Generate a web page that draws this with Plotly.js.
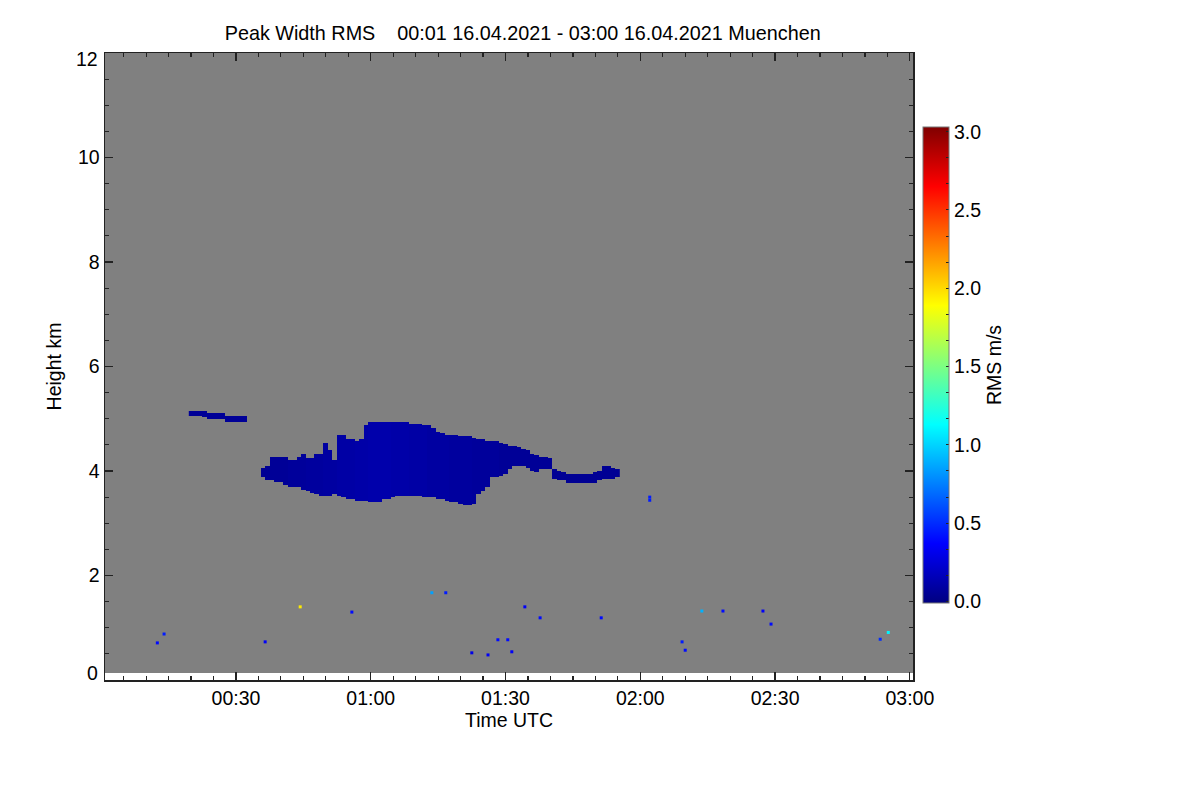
<!DOCTYPE html>
<html>
<head>
<meta charset="utf-8">
<script src="https://cdn.plot.ly/plotly-3.0.1.min.js"></script>
<style>
  body { margin: 0; background: #fff; }
  #chart { width: 1200px; height: 800px; }
</style>
</head>
<body>
<div id="chart"></div>
<script>
// Peak Width RMS, Muenchen 16.04.2021 00:01-03:00 UTC.
// Zeiten in Minuten nach 00:00 UTC, Hoehen in km, Werte in m/s.

const DAY = '2021-04-16';

// Hauptwolke, eine Spalte pro Minute ab CLOUD_START
const CLOUD_START = 36;
const CLOUD_TOP = [
  4.05, 4.10, 4.27, 4.27, 4.27, 4.26, 4.21, 4.21, 4.26, 4.32,
  4.24, 4.24, 4.34, 4.34, 4.53, 4.40, 4.21, 4.68, 4.68, 4.60,
  4.59, 4.58, 4.59, 4.88, 4.93, 4.94, 4.94, 4.94, 4.94, 4.94,
  4.93, 4.93, 4.92, 4.91, 4.90, 4.90, 4.88, 4.86, 4.80, 4.76,
  4.72, 4.69, 4.69, 4.68, 4.67, 4.67, 4.66, 4.62, 4.59, 4.59,
  4.58, 4.56, 4.56, 4.55, 4.50, 4.49, 4.48, 4.46, 4.41, 4.38,
  4.32, 4.31, 4.28, 4.27, 4.24, 4.02, 4.00, 3.98, 3.95, 3.94,
  3.94, 3.94, 3.94, 3.95, 3.96, 4.00, 4.08, 4.08, 4.06, 4.02
];
const CLOUD_BASE = [
  3.88, 3.84, 3.82, 3.81, 3.79, 3.74, 3.72, 3.71, 3.70, 3.64,
  3.61, 3.58, 3.56, 3.54, 3.54, 3.54, 3.56, 3.52, 3.51, 3.48,
  3.46, 3.45, 3.45, 3.43, 3.42, 3.41, 3.42, 3.47, 3.48, 3.49,
  3.53, 3.54, 3.54, 3.54, 3.53, 3.52, 3.51, 3.51, 3.50, 3.48,
  3.46, 3.45, 3.42, 3.40, 3.37, 3.36, 3.36, 3.37, 3.55, 3.62,
  3.72, 3.88, 3.90, 3.92, 3.95, 4.05, 4.09, 4.10, 4.09, 4.08,
  4.00, 3.99, 4.03, 4.05, 4.04, 3.86, 3.84, 3.82, 3.78, 3.77,
  3.76, 3.76, 3.77, 3.77, 3.78, 3.82, 3.85, 3.86, 3.87, 3.88
];
const CLOUD_RMS = [
  0.05, 0.05, 0.06, 0.06, 0.06, 0.06, 0.07, 0.07, 0.07, 0.07,
  0.08, 0.08, 0.08, 0.08, 0.09, 0.09, 0.09, 0.10, 0.10, 0.10,
  0.10, 0.11, 0.11, 0.11, 0.12, 0.12, 0.12, 0.12, 0.12, 0.11,
  0.11, 0.11, 0.11, 0.10, 0.10, 0.10, 0.10, 0.09, 0.09, 0.09,
  0.09, 0.09, 0.08, 0.08, 0.08, 0.08, 0.08, 0.07, 0.07, 0.07,
  0.07, 0.07, 0.07, 0.06, 0.06, 0.06, 0.06, 0.06, 0.06, 0.06,
  0.06, 0.06, 0.06, 0.06, 0.06, 0.05, 0.05, 0.05, 0.05, 0.05,
  0.05, 0.05, 0.05, 0.05, 0.05, 0.05, 0.05, 0.05, 0.05, 0.05
];

// duenne Schicht bei 5 km
const BAND_START = 20;
const BAND_TOP  = [5.15, 5.15, 5.15, 5.15, 5.10, 5.10, 5.10, 5.10, 5.05, 5.05, 5.05, 5.05, 5.05];
const BAND_BASE = [5.05, 5.05, 5.05, 5.04, 5.00, 5.00, 5.00, 5.00, 4.95, 4.95, 4.95, 4.95, 4.95];
const BAND_RMS  = [0.06, 0.06, 0.06, 0.06, 0.06, 0.06, 0.06, 0.06, 0.06, 0.06, 0.06, 0.06, 0.06];

// Einzelpixel
const SPOT_MIN = [12.5, 14.0, 36.5, 44.3, 55.8, 73.6, 76.7, 82.5, 86.1, 88.3, 90.5, 91.4,
                  94.3, 97.7, 111.3, 122.1, 122.1, 129.3, 130.0, 133.7, 138.4, 147.3, 149.1, 173.4, 175.2];
const SPOT_KM  = [0.71, 0.88, 0.73, 1.40, 1.30, 1.67, 1.67, 0.52, 0.48, 0.77, 0.77, 0.54,
                  1.40, 1.19, 1.19, 3.50, 3.44, 0.73, 0.57, 1.32, 1.32, 1.32, 1.07, 0.78, 0.91];
const SPOT_RMS = [0.40, 0.45, 0.35, 1.95, 0.40, 0.85, 0.45, 0.30, 0.35, 0.40, 0.40, 0.35,
                  0.35, 0.40, 0.40, 0.45, 0.45, 0.45, 0.40, 0.90, 0.40, 0.35, 0.40, 0.50, 1.10];

const HEIGHT_TICKS = [0, 2, 4, 6, 8, 10, 12];
const RMS_TICKS = [0, 0.5, 1, 1.5, 2, 2.5, 3];

const GATE_KM = 0.03;
const DATA_KM = [0.13, 12.0];          // Messbereich (grau = kein Signal)
const TIME_RANGE = [0.85, 180.7];
const RMS_RANGE = [-0.01, 3.03];

const JET = [
  [0, '#000080'], [0.125, '#0000ff'], [0.375, '#00ffff'],
  [0.625, '#ffff00'], [0.875, '#ff0000'], [1, '#800000']
];
const FONT = 'Liberation Sans, Arial, sans-serif';
const FS = 19.5;

function pad(n) { return String(n).padStart(2, '0'); }
function when(min) {
  const s = Math.round(min * 60);
  return `${DAY} ${pad(Math.floor(s / 3600))}:${pad(Math.floor(s / 60) % 60)}:${pad(s % 60)}`;
}

// Raster aus den Spalten aufbauen
const firstCol = BAND_START;
const lastCol = CLOUD_START + CLOUD_TOP.length - 1;
const cols = [];
for (let m = firstCol; m <= lastCol; m++) cols.push(m);
const rows = [];
for (let h = 3.30; h <= 5.25; h += GATE_KM) rows.push(+h.toFixed(3));

function cell(m, h) {
  const i = m - CLOUD_START;
  if (i >= 0 && i < CLOUD_TOP.length && h >= CLOUD_BASE[i] && h <= CLOUD_TOP[i]) return CLOUD_RMS[i];
  const j = m - BAND_START;
  if (j >= 0 && j < BAND_TOP.length && h >= BAND_BASE[j] && h <= BAND_TOP[j]) return BAND_RMS[j];
  return null;
}
const z = rows.map(h => cols.map(m => cell(m, h)));

// kleine Striche am Farbbalken (drei pro halbe Einheit)
const barTicks = [];
for (let k = 0; k <= 18; k++) barTicks.push(+(k / 6).toFixed(4));
const barText = barTicks.map(v => (RMS_TICKS.includes(v) ? v.toFixed(1) : ''));

const background = {
  type: 'heatmap',
  x: [when(TIME_RANGE[0]), when(TIME_RANGE[1])],
  y: DATA_KM,
  z: [[1]],
  colorscale: [[0, '#808080'], [1, '#808080']],
  showscale: false,
  hoverinfo: 'skip',
};

const cloud = {
  type: 'heatmap',
  x: cols.map(when),
  y: rows,
  z: z,
  zmin: RMS_RANGE[0],
  zmax: RMS_RANGE[1],
  colorscale: JET,
  hoverongaps: false,
  colorbar: {
    x: 1.0124, xanchor: 'left', xpad: 0,
    y: 0.1228, yanchor: 'bottom', ypad: 0,
    len: 476, lenmode: 'pixels',
    thickness: 26, thicknessmode: 'pixels',
    outlinewidth: 1, outlinecolor: '#777',
    tickmode: 'array',
    tickvals: barTicks,
    ticktext: barText,
    ticks: 'inside', ticklen: 3, tickcolor: '#222',
    tickfont: { family: FONT, size: FS, color: '#000' },
    title: { text: 'RMS m/s', side: 'right', font: { family: FONT, size: FS, color: '#000' } },
  },
};

const spots = {
  type: 'scatter',
  mode: 'markers',
  x: SPOT_MIN.map(when),
  y: SPOT_KM,
  marker: {
    symbol: 'square', size: 3,
    color: SPOT_RMS, colorscale: JET, cmin: RMS_RANGE[0], cmax: RMS_RANGE[1],
    line: { width: 0 },
  },
  hoverinfo: 'skip',
};

const axisCommon = {
  showline: true, linecolor: '#222', linewidth: 1.5,
  mirror: 'ticks', ticks: 'inside', ticklen: 8, tickcolor: '#222', tickwidth: 1.2,
  showgrid: false, zeroline: false,
  tickfont: { family: FONT, size: FS, color: '#000' },
};

// die aeusseren Hoehenbeschriftungen stehen etwas nach innen versetzt
const endLabels = [
  { v: HEIGHT_TICKS[0], shift: 7 },
  { v: HEIGHT_TICKS[HEIGHT_TICKS.length - 1], shift: -6 },
].map(e => ({
  xref: 'paper', x: 0, xanchor: 'right', xshift: -5,
  yref: 'y', y: e.v, yanchor: 'middle', yshift: e.shift,
  text: String(e.v), showarrow: false,
  font: { family: FONT, size: FS, color: '#000' },
}));

const layout = {
  width: 1200, height: 800,
  margin: { l: 105, r: 287, t: 53, b: 120 },
  paper_bgcolor: '#fff', plot_bgcolor: '#fff',
  showlegend: false,
  font: { family: FONT, size: FS, color: '#000' },
  title: {
    text: 'Peak Width RMS\u00a0\u00a0\u00a0 00:01 16.04.2021 - 03:00 16.04.2021 Muenchen',
    font: { family: FONT, size: 19.8, color: '#000' },
    xref: 'paper', x: 0.517, xanchor: 'center',
    yref: 'container', y: 0.959, yanchor: 'middle',
  },
  xaxis: {
    ...axisCommon,
    type: 'date',
    range: [when(TIME_RANGE[0]), when(TIME_RANGE[1])],
    tick0: `${DAY} 00:00:00`, dtick: 30 * 60000, tickformat: '%H:%M',
    minor: { dtick: 5 * 60000, ticks: 'inside', ticklen: 4, tickcolor: '#222' },
    title: { text: 'Time UTC', standoff: 4, font: { family: FONT, size: FS } },
  },
  yaxis: {
    ...axisCommon,
    range: [0, 12],
    tickmode: 'array',
    tickvals: HEIGHT_TICKS,
    ticktext: HEIGHT_TICKS.map((v, i) => (i === 0 || i === HEIGHT_TICKS.length - 1 ? '' : String(v))),
    minor: { dtick: 0.5, ticks: 'inside', ticklen: 4, tickcolor: '#222' },
    title: { text: 'Height km', standoff: 11, font: { family: FONT, size: FS } },
  },
  annotations: endLabels,
};

Plotly.newPlot('chart', [background, cloud, spots], layout, { displayModeBar: false, staticPlot: true });
</script>
</body>
</html>
